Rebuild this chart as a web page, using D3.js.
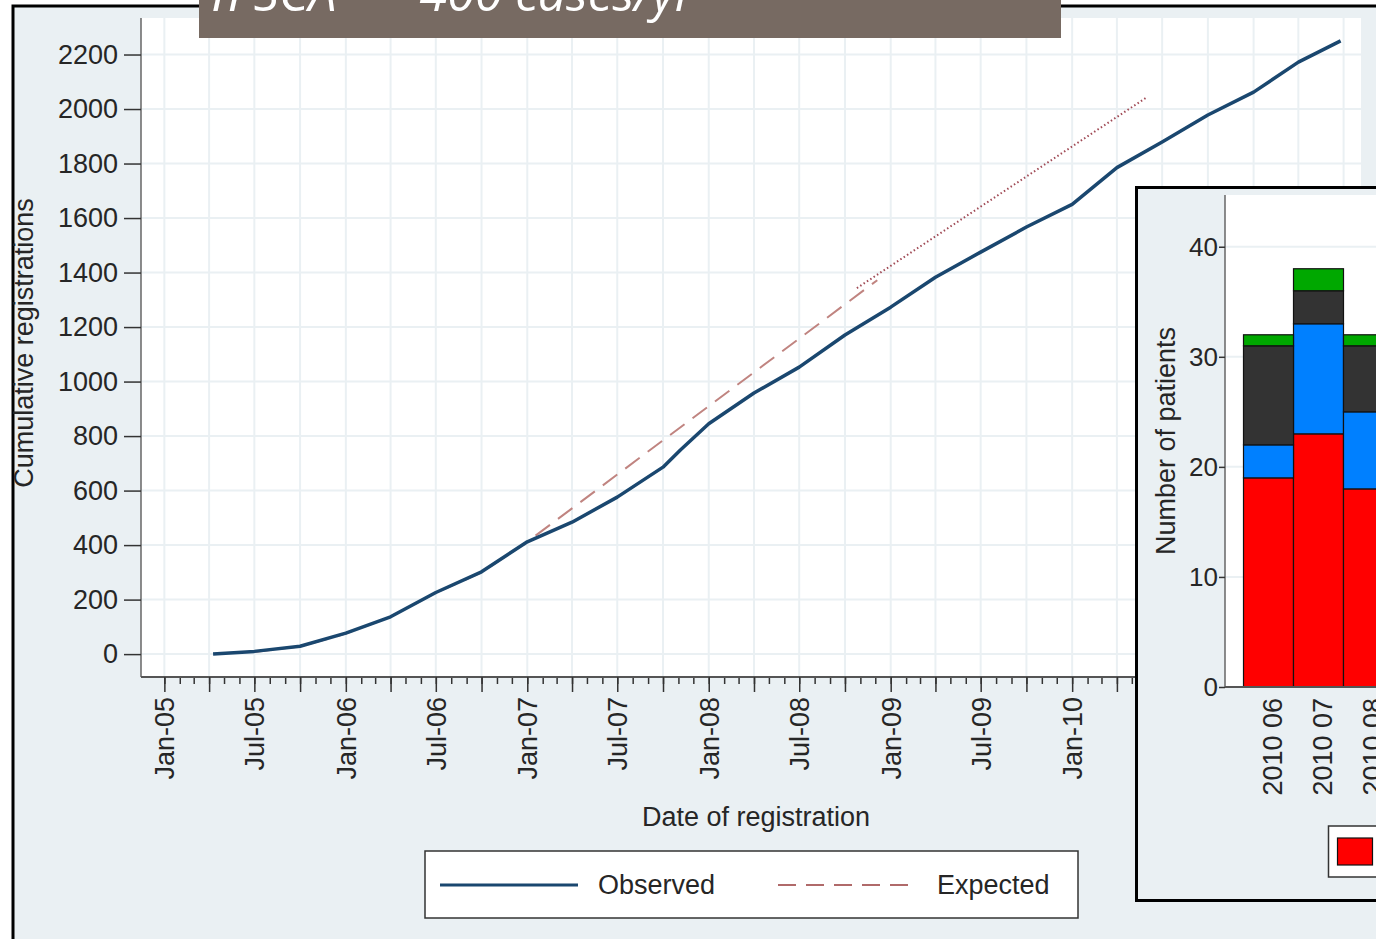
<!DOCTYPE html>
<html>
<head>
<meta charset="utf-8">
<script src="https://cdn.jsdelivr.net/npm/d3@7"></script>
<style>
	body { margin: 0; background: #fff; }
	svg { display: block; font-family: "Liberation Sans", Arial, sans-serif; }
</style>
</head>
<body>
<svg></svg>
<script>
// observed cumulative registrations
let obsDates = ["2005-04-09", "2005-07-01", "2005-10-01", "2006-01-01", "2006-04-01", "2006-07-01",
	"2006-10-01", "2007-01-01", "2007-04-01", "2007-07-01", "2007-10-01", "2007-11-05", "2008-01-01",
	"2008-04-01", "2008-07-01", "2008-10-01", "2009-01-01", "2009-04-01", "2009-07-01", "2009-10-01",
	"2010-01-01", "2010-04-01", "2010-07-01", "2010-10-01", "2011-01-01", "2011-04-01", "2011-06-25"];
let obsValues = [0, 10, 29, 77, 137, 226, 302, 412, 484, 576, 686, 749, 845,
	958, 1053, 1171, 1273, 1383, 1475, 1567, 1650, 1785, 1879, 1978, 2062, 2172, 2250];

// expected (dashed) and projected (dotted)
let expDates = ["2005-07-01", "2005-10-01", "2006-01-01", "2006-04-01", "2006-07-01", "2006-10-01", "2007-01-01", "2008-12-05"];
let expValues = [8, 28, 75, 137, 225, 300, 412, 1372];
let projDates = ["2008-10-25", "2010-06-01"];
let projValues = [1343, 2044];

let yTicks = [0, 200, 400, 600, 800, 1000, 1200, 1400, 1600, 1800, 2000, 2200];

// inset: stacked monthly counts
let months = ["2010 06", "2010 07", "2010 08"];
let groups = ["g1", "g2", "g3", "g4"];
let g1 = [19, 23, 18];
let g2 = [3, 10, 7];
let g3 = [9, 3, 6];
let g4 = [1, 2, 1];
let insetTicks = [0, 10, 20, 30, 40];

let parse = d3.timeParse("%Y-%m-%d");
let width = 1376, height = 939;
let bg = "#eaf0f3";
let textCol = "#262626";

let svg = d3.select("svg").attr("width", width).attr("height", height);

// outer frame
svg.append("rect").attr("x", 13).attr("y", 6).attr("width", width).attr("height", height)
	.attr("fill", bg).attr("stroke", "#000").attr("stroke-width", 3);

let x = d3.scaleTime().domain([new Date(2004, 10, 15), new Date(2011, 7, 5)]).range([141, 1361]);
let y = d3.scaleLinear().domain([-84, 2334]).range([677, 18]);

svg.append("rect").attr("x", 141).attr("y", 18).attr("width", 1220).attr("height", 659).attr("fill", "#fff");

// grid
let quarters = d3.timeMonth.every(3).range(new Date(2005, 0, 1), new Date(2011, 7, 2));
let months1 = d3.timeMonth.range(new Date(2005, 0, 1), new Date(2011, 7, 2));
let grid = svg.append("g").attr("stroke", bg).attr("stroke-width", 2);
grid.selectAll(".gv").data(quarters).enter().append("line")
	.attr("x1", d => x(d)).attr("x2", d => x(d)).attr("y1", 18).attr("y2", 677);
grid.selectAll(".gh").data(yTicks).enter().append("line")
	.attr("x1", 141).attr("x2", 1361).attr("y1", d => y(d)).attr("y2", d => y(d));

// lines
let line = d3.line().x(d => x(d[0])).y(d => y(d[1]));
let obs = obsDates.map((d, i) => [parse(d), obsValues[i]]);
let exp = expDates.map((d, i) => [parse(d), expValues[i]]);
let proj = projDates.map((d, i) => [parse(d), projValues[i]]);

svg.append("path").datum(exp).attr("d", line).attr("fill", "none")
	.attr("stroke", "#c08480").attr("stroke-width", 2).attr("stroke-dasharray", "18,10");
svg.append("path").datum(proj).attr("d", line).attr("fill", "none")
	.attr("stroke", "#a04a55").attr("stroke-width", 2).attr("stroke-dasharray", "1.5,2.5");
svg.append("path").datum(obs).attr("d", line).attr("fill", "none")
	.attr("stroke", "#1a476f").attr("stroke-width", 3.5).attr("stroke-linejoin", "round");

// y axis
let yAxis = svg.append("g").attr("transform", "translate(141,0)")
	.call(d3.axisLeft(y).tickValues(yTicks).tickFormat(d3.format("d")).tickSize(17).tickPadding(6));
yAxis.select(".domain").attr("d", "M0,18V677").attr("stroke", "#666").attr("stroke-width", 1.5);
yAxis.selectAll(".tick line").attr("stroke", "#333").attr("stroke-width", 1.5);
yAxis.selectAll("text").attr("font-size", 27).attr("fill", textCol).attr("font-family", null);

// x axis: monthly minor ticks, quarterly long ticks, labels every 6 months
let xMinor = svg.append("g").attr("transform", "translate(0,677)")
	.call(d3.axisBottom(x).tickValues(months1).tickSize(7).tickFormat(""));
xMinor.select(".domain").remove();
xMinor.selectAll(".tick line").attr("stroke", "#333").attr("stroke-width", 1.5);

let fmt = d3.timeFormat("%b-%y");
let xAxis = svg.append("g").attr("transform", "translate(0,677)")
	.call(d3.axisBottom(x).tickValues(quarters).tickSize(15)
		.tickFormat(d => d.getMonth() % 6 === 0 ? fmt(d) : ""));
xAxis.select(".domain").attr("d", "M141,0H1361").attr("stroke", "#555").attr("stroke-width", 2);
xAxis.selectAll(".tick line").attr("stroke", "#333").attr("stroke-width", 1.5);
xAxis.selectAll("text")
	.attr("transform", "rotate(-90)")
	.attr("x", -20).attr("y", 0).attr("dy", "0.35em")
	.attr("text-anchor", "end")
	.attr("font-size", 27).attr("fill", textCol).attr("font-family", null);

// axis titles
svg.append("text").attr("transform", "translate(33,343) rotate(-90)").attr("text-anchor", "middle")
	.attr("font-size", 27).attr("fill", textCol).text("Cumulative registrations");
svg.append("text").attr("x", 756).attr("y", 826).attr("text-anchor", "middle")
	.attr("font-size", 27).attr("fill", textCol).text("Date of registration");

// legend
let leg = svg.append("g");
leg.append("rect").attr("x", 425).attr("y", 851).attr("width", 653).attr("height", 67)
	.attr("fill", "#fff").attr("stroke", "#333").attr("stroke-width", 1.5);
leg.append("line").attr("x1", 440).attr("x2", 578).attr("y1", 885).attr("y2", 885)
	.attr("stroke", "#1a476f").attr("stroke-width", 3);
leg.append("text").attr("x", 598).attr("y", 885).attr("dy", "0.35em")
	.attr("font-size", 27).attr("fill", textCol).text("Observed");
leg.append("line").attr("x1", 778).attr("x2", 918).attr("y1", 885).attr("y2", 885)
	.attr("stroke", "#b06a6a").attr("stroke-width", 2).attr("stroke-dasharray", "18,10");
leg.append("text").attr("x", 937).attr("y", 885).attr("dy", "0.35em")
	.attr("font-size", 27).attr("fill", textCol).text("Expected");

// banner at the top (text cut off by the page edge)
svg.append("rect").attr("x", 199).attr("y", 0).attr("width", 862).attr("height", 38).attr("fill", "#776a62");
svg.append("text").attr("x", 212).attr("y", 11)
	.attr("font-family", "'Open Sans', sans-serif").attr("font-style", "italic")
	.attr("font-size", 50).attr("fill", "#fff").text("n SCA = ~400 cases/yr");

// ---- inset bar chart ----
let inset = svg.append("g");
inset.append("rect").attr("x", 1136.5).attr("y", 187.5).attr("width", 300).attr("height", 713)
	.attr("fill", bg).attr("stroke", "#000").attr("stroke-width", 3);
inset.append("rect").attr("x", 1225).attr("y", 195).attr("width", 200).attr("height", 492).attr("fill", "#fff");

let yi = d3.scaleLinear().domain([0, 44.7]).range([687, 195]);
let xi = d3.scaleBand().domain(months).range([1243.5, 1393.5]).padding(0);

inset.append("g").selectAll("line").data(insetTicks.slice(1)).enter().append("line")
	.attr("x1", 1225).attr("x2", 1400).attr("y1", d => yi(d)).attr("y2", d => yi(d))
	.attr("stroke", bg).attr("stroke-width", 2);

let table = months.map((m, i) => ({month: m, g1: g1[i], g2: g2[i], g3: g3[i], g4: g4[i]}));
let stacked = d3.stack().keys(groups)(table);
let colors = d3.scaleOrdinal().domain(groups).range(["#ff0000", "#0080ff", "#333333", "#00a800"]);

inset.append("g").selectAll("g").data(stacked).enter().append("g")
	.attr("fill", d => colors(d.key))
	.selectAll("rect").data(d => d).enter().append("rect")
	.attr("x", d => xi(d.data.month))
	.attr("width", xi.bandwidth())
	.attr("y", d => yi(d[1]))
	.attr("height", d => yi(d[0]) - yi(d[1]))
	.attr("stroke", "#111").attr("stroke-width", 1.2);

let yiAxis = inset.append("g").attr("transform", "translate(1225,0)")
	.call(d3.axisLeft(yi).tickValues(insetTicks).tickSize(6).tickPadding(1));
yiAxis.select(".domain").attr("d", "M0,195V687").attr("stroke", "#666").attr("stroke-width", 1.5);
yiAxis.selectAll(".tick line").attr("stroke", "#333").attr("stroke-width", 1.5);
yiAxis.selectAll("text").attr("font-size", 26).attr("fill", textCol).attr("font-family", null);

inset.append("line").attr("x1", 1225).attr("x2", 1376).attr("y1", 687).attr("y2", 687)
	.attr("stroke", "#555").attr("stroke-width", 2);

inset.append("g").selectAll("text").data(months).enter().append("text")
	.attr("transform", d => "translate(" + (xi(d) + xi.bandwidth() / 2 + 4) + ",698) rotate(-90)")
	.attr("dy", "0.35em").attr("text-anchor", "end")
	.attr("font-size", 27).attr("fill", textCol).text(d => d);

inset.append("text").attr("transform", "translate(1175,441) rotate(-90)").attr("text-anchor", "middle")
	.attr("font-size", 27).attr("fill", textCol).text("Number of patients");

// inset legend (only the first key is visible)
inset.append("rect").attr("x", 1328.5).attr("y", 826).attr("width", 100).attr("height", 51)
	.attr("fill", "#fff").attr("stroke", "#333").attr("stroke-width", 1.5);
inset.append("rect").attr("x", 1337.5).attr("y", 838).attr("width", 35).attr("height", 27)
	.attr("fill", colors("g1")).attr("stroke", "#111").attr("stroke-width", 1.2);
</script>
</body>
</html>
